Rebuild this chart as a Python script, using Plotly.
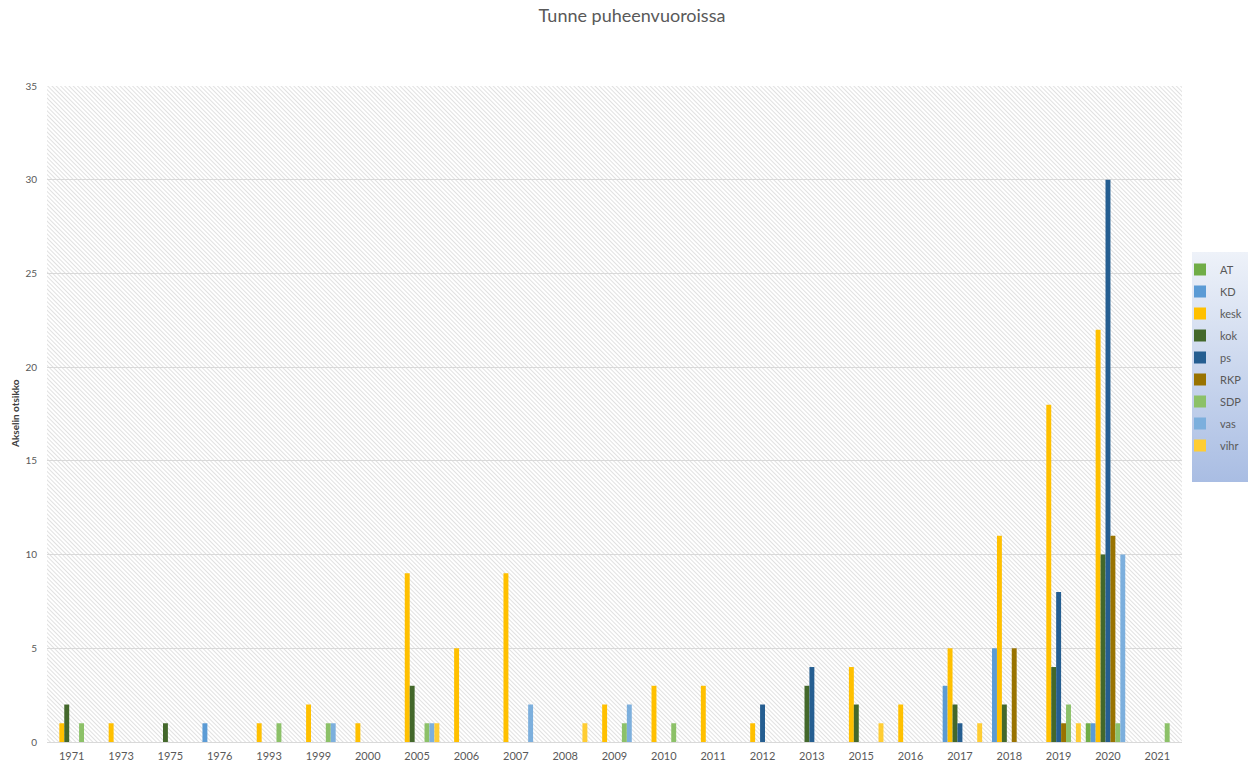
import base64
import plotly.graph_objects as go

# ---- data ----
years = ["1971", "1973", "1975", "1976", "1993", "1999", "2000", "2005", "2006", "2007",
         "2008", "2009", "2010", "2011", "2012", "2013", "2015", "2016", "2017", "2018",
         "2019", "2020", "2021"]

AT   = [0, 0, 0, 0, 0, 0, 0, 0, 0, 0, 0, 0, 0, 0, 0, 0, 0, 0, 0, 0, 0, 1, 0]
KD   = [0, 0, 0, 1, 0, 0, 0, 0, 0, 0, 0, 0, 0, 0, 0, 0, 0, 0, 3, 5, 0, 1, 0]
kesk = [1, 1, 0, 0, 1, 2, 1, 9, 5, 9, 0, 2, 3, 3, 1, 0, 4, 2, 5, 11, 18, 22, 0]
kok  = [2, 0, 1, 0, 0, 0, 0, 3, 0, 0, 0, 0, 0, 0, 0, 3, 2, 0, 2, 2, 4, 10, 0]
ps   = [0, 0, 0, 0, 0, 0, 0, 0, 0, 0, 0, 0, 0, 0, 2, 4, 0, 0, 1, 0, 8, 30, 0]
RKP  = [0, 0, 0, 0, 0, 0, 0, 0, 0, 0, 0, 0, 0, 0, 0, 0, 0, 0, 0, 5, 1, 11, 0]
SDP  = [1, 0, 0, 0, 1, 1, 0, 1, 0, 0, 0, 1, 1, 0, 0, 0, 0, 0, 0, 0, 2, 1, 1]
vas  = [0, 0, 0, 0, 0, 1, 0, 1, 0, 2, 0, 2, 0, 0, 0, 0, 0, 0, 0, 0, 0, 10, 0]
vihr = [0, 0, 0, 0, 0, 0, 0, 1, 0, 0, 1, 0, 0, 0, 0, 0, 1, 0, 1, 0, 1, 0, 0]

series_names = ["AT", "KD", "kesk", "kok", "ps", "RKP", "SDP", "vas", "vihr"]
series_values = [AT, KD, kesk, kok, ps, RKP, SDP, vas, vihr]
series_colors = ["#70AD47", "#5B9BD5", "#FFC000", "#43682B", "#255E91",
                 "#997300", "#8CC168", "#7CAFDD", "#FFCD33"]

title_text = "Tunne puheenvuoroissa"
y_title = "Akselin otsikko"

# ---- figure ----
W, H = 1248, 763
L, R, T, B = 47, 66, 86, 21
PW, PH = W - L - R, H - T - B

fig = go.Figure()
for name, vals, col in zip(series_names, series_values, series_colors):
    fig.add_trace(go.Bar(
        x=years, y=vals, name=name, marker=dict(color=col, line=dict(width=0)),
        legendgroup=name,
    ))

# hatched plot background
hatch_svg = (
    f"<svg xmlns='http://www.w3.org/2000/svg' width='{PW}' height='{PH}'>"
    "<defs><pattern id='p' width='3' height='3' patternUnits='userSpaceOnUse' "
    "patternTransform='rotate(-45)'>"
    "<line x1='0' y1='-1' x2='0' y2='4' stroke='#c4c4c4' stroke-width='1'/>"
    "</pattern></defs>"
    "<rect width='100%' height='100%' fill='white'/>"
    "<rect width='100%' height='100%' fill='url(#p)'/></svg>"
)
hatch_uri = "data:image/svg+xml;base64," + base64.b64encode(hatch_svg.encode()).decode()

# legend gradient box
GX0, GY0, GW, GH = 1192, 252, 56, 230
grad_svg = (
    f"<svg xmlns='http://www.w3.org/2000/svg' width='{GW}' height='{GH}'>"
    "<defs><linearGradient id='g' x1='0' y1='0' x2='0' y2='1'>"
    "<stop offset='0' stop-color='#eef2f9'/><stop offset='1' stop-color='#a9bde3'/>"
    f"</linearGradient></defs><rect width='{GW}' height='{GH}' fill='url(#g)'/></svg>"
)
grad_uri = "data:image/svg+xml;base64," + base64.b64encode(grad_svg.encode()).decode()

def px_x(p):
    return (p - L) / PW

def px_y(p):
    return (H - B - p) / PH

fig.update_layout(
    width=W, height=H,
    margin=dict(l=L, r=R, t=T, b=B, autoexpand=False),
    paper_bgcolor="white",
    plot_bgcolor="rgba(0,0,0,0)",
    font=dict(family="Lato, 'Open Sans', sans-serif", color="#595959", size=10),
    barmode="group",
    bargap=0.1,
    bargroupgap=0.0,
    title=dict(text=title_text, x=632 / W, xanchor="center", xref="container",
               y=1 - 16 / H, yanchor="middle", yref="container",
               font=dict(size=18, color="#595959")),
    xaxis=dict(type="category", showgrid=False, showline=True, linecolor="#d9d9d9",
               linewidth=1, ticks="", tickfont=dict(size=11, color="#595959"),
               automargin=False, fixedrange=True, ticklabelstandoff=4),
    yaxis=dict(range=[0, 35], dtick=5, showgrid=True, gridcolor="#d9d9d9", gridwidth=1,
               zeroline=False, showline=False, ticks="", tickfont=dict(size=10, color="#595959"),
               automargin=False, fixedrange=True, ticklabelstandoff=9),
    legend=dict(x=px_x(1180), y=px_y(255), xanchor="left", yanchor="top",
                bgcolor="rgba(0,0,0,0)", font=dict(size=11, color="#595959"),
                tracegroupgap=3, itemwidth=30, traceorder="grouped"),
    images=[
        dict(source=hatch_uri, xref="paper", yref="paper", x=0, y=1, sizex=1, sizey=1,
             xanchor="left", yanchor="top", sizing="stretch", layer="below"),
        dict(source=grad_uri, xref="paper", yref="paper", x=px_x(GX0), y=px_y(GY0),
             sizex=GW / PW, sizey=GH / PH, xanchor="left", yanchor="top",
             sizing="stretch", layer="below"),
    ],
    annotations=[
        dict(text=f"<b>{y_title}</b>", x=px_x(15), y=px_y(414), xref="paper", yref="paper",
             textangle=-90, showarrow=False, font=dict(size=10, color="#404040"),
             xanchor="center", yanchor="middle"),
    ],
)

fig.write_html("out.html", config={"displayModeBar": False},
               post_script="document.body.style.margin='0';")
